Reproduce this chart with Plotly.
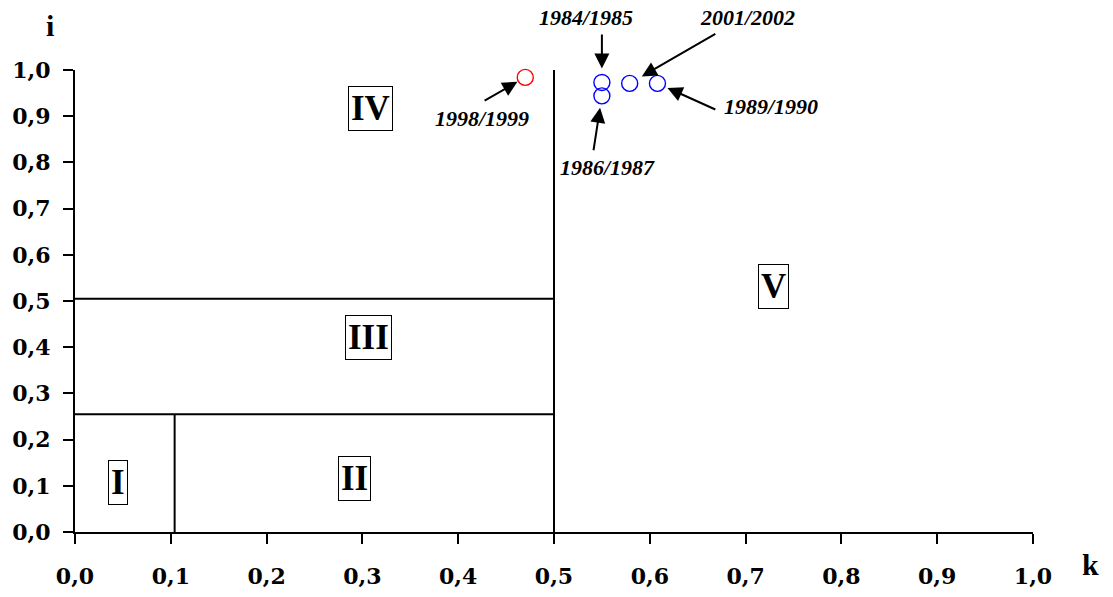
import plotly.graph_objects as go

# Seasons plotted in the (k, i) plane
seasons = ["1998/1999", "1984/1985", "1986/1987", "2001/2002", "1989/1990"]
k_values = [0.470, 0.550, 0.550, 0.579, 0.608]
i_values = [0.984, 0.973, 0.944, 0.971, 0.971]
point_colors = ["#ff0000", "#0000ff", "#0000ff", "#0000ff", "#0000ff"]

# Label positions for each season (data coordinates) and arrow tails
label_k = [0.425, 0.533, 0.556, 0.702, 0.726]
label_i = [0.894, 1.113, 0.788, 1.113, 0.920]
tail_k = [0.426, 0.550, 0.541, 0.670, 0.670]
tail_i = [0.932, 1.080, 0.823, 1.080, 0.913]
arrow_standoff = [9, 14, 12, 14, 11]

# Zone boundaries
k_split = 0.5
k_low = 0.104
i_upper = 0.505
i_lower = 0.255

# Zone labels
zones = ["I", "II", "III", "IV", "V"]
zone_k = [0.0444, 0.2916, 0.306, 0.308, 0.729]
zone_i = [0.108, 0.1154, 0.4216, 0.916, 0.531]

ticks = [round(0.1 * n, 1) for n in range(11)]
tick_text = [f"{t:.1f}".replace(".", ",") for t in ticks]

TICK_FONT = dict(family="DejaVu Serif", size=22, color="black", weight="bold")
SERIF = "Liberation Serif"

fig = go.Figure()

# Zone boundary lines
bx = [k_split, k_split, None, 0, k_split, None, 0, k_split, None, k_low, k_low]
by = [0, 1.0, None, i_upper, i_upper, None, i_lower, i_lower, None, 0, i_lower]
fig.add_trace(go.Scatter(x=bx, y=by, mode="lines",
                         line=dict(color="black", width=2),
                         hoverinfo="skip", showlegend=False))

# Season points
fig.add_trace(go.Scatter(x=k_values, y=i_values, mode="markers",
                         marker=dict(symbol="circle-open", size=16,
                                     color=point_colors,
                                     line=dict(width=1.4, color=point_colors)),
                         text=seasons, cliponaxis=False, showlegend=False))

annotations = []
for name, x, y in zip(zones, zone_k, zone_i):
    annotations.append(dict(x=x, y=y, xref="x", yref="y", text=name,
                            showarrow=False,
                            font=dict(family=SERIF, size=35, color="black",
                                      weight="bold"),
                            bordercolor="black", borderwidth=1, borderpad=2,
                            bgcolor="white"))

# Both axes span [0, 1] over the full plot area, so data values double as
# paper fractions; labels use paper refs so they stay visible above the range.
for s, px, py, lx, ly, tx, ty, so in zip(seasons, k_values, i_values,
                                         label_k, label_i, tail_k, tail_i,
                                         arrow_standoff):
    annotations.append(dict(x=px, y=py, xref="x", yref="y",
                            ax=tx, ay=ty, axref="x", ayref="y",
                            text="", showarrow=True, arrowhead=2,
                            arrowsize=1.5, arrowwidth=2, arrowcolor="black",
                            standoff=so))
    annotations.append(dict(x=lx, y=ly, xref="paper", yref="paper", text=s,
                            xanchor="center", yanchor="middle",
                            showarrow=False,
                            font=dict(family=SERIF, size=22, color="black",
                                      weight="bold", style="italic")))

# Axis titles (placed in paper fractions of the plot area)
annotations.append(dict(x=-0.026, y=1.097, xref="paper", yref="paper",
                        text="i", showarrow=False,
                        xanchor="center", yanchor="middle",
                        font=dict(family=SERIF, size=30, color="black",
                                  weight="bold")))
annotations.append(dict(x=1.06, y=-0.071, xref="paper", yref="paper",
                        text="k", showarrow=False,
                        xanchor="center", yanchor="middle",
                        font=dict(family=SERIF, size=30, color="black",
                                  weight="bold")))

fig.update_layout(
    width=1113, height=597,
    margin=dict(l=75, r=80, t=70, b=65),
    paper_bgcolor="white", plot_bgcolor="white",
    annotations=annotations,
    xaxis=dict(range=[0, 1.0], tickvals=ticks, ticktext=tick_text,
               showgrid=False, zeroline=False, showline=True,
               linecolor="black", linewidth=2, ticks="outside", ticklen=10,
               tickwidth=2, tickcolor="black", tickfont=TICK_FONT,
               ticklabelstandoff=14, automargin=False),
    yaxis=dict(range=[0, 1.0], tickvals=ticks, ticktext=tick_text,
               showgrid=False, zeroline=False, showline=True,
               linecolor="black", linewidth=2, ticks="outside", ticklen=10,
               tickwidth=2, tickcolor="black", tickfont=TICK_FONT,
               ticklabelstandoff=8, automargin=False),
)

fig.write_html("out.html")
